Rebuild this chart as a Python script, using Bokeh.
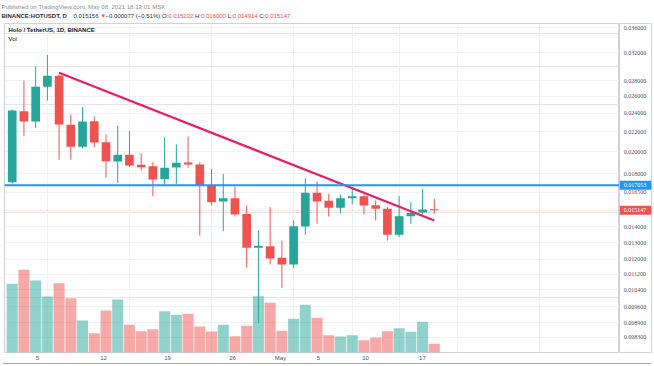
from bokeh.plotting import figure
from bokeh.models import Range1d, FixedTicker, Span, Label, Grid, LinearScale, Spacer
from bokeh.layouts import column, row
from bokeh.embed import file_html
from bokeh.resources import INLINE

# ---------------- data ----------------
day_index = list(range(37))  # 2 Apr 2021 ... 8 May 2021, daily
opens = [0.01731, 0.02424, 0.02309, 0.02722, 0.02867, 0.02273, 0.02048, 0.02312, 0.02093, 0.01910,
         0.01971, 0.01880, 0.01868, 0.01756, 0.01856, 0.01901, 0.01883, 0.01700, 0.01580, 0.01605,
         0.01488, 0.01269, 0.01278, 0.01210, 0.01172, 0.01403, 0.01646, 0.01585, 0.01533, 0.01605,
         0.01620, 0.01552, 0.01526, 0.01349, 0.01473, 0.01499, 0.015222]
highs = [0.02444, 0.02804, 0.02996, 0.03167, 0.02885, 0.02386, 0.02470, 0.02364, 0.02171, 0.02265,
         0.02205, 0.01986, 0.01903, 0.02143, 0.02070, 0.02150, 0.01903, 0.01845, 0.01801, 0.01696,
         0.01550, 0.01377, 0.01538, 0.01313, 0.01444, 0.01764, 0.01737, 0.01639, 0.01633, 0.01691,
         0.01633, 0.01587, 0.01538, 0.01620, 0.01575, 0.01678, 0.016000]
lows = [0.01720, 0.02153, 0.02236, 0.02550, 0.01925, 0.01925, 0.02031, 0.02044, 0.01768, 0.01723,
        0.01859, 0.01830, 0.01620, 0.01713, 0.01718, 0.01854, 0.01345, 0.01550, 0.01372, 0.01471,
        0.01154, 0.00886, 0.01172, 0.01049, 0.01152, 0.01349, 0.01421, 0.01471, 0.01495, 0.01558,
        0.01485, 0.01444, 0.01313, 0.01334, 0.01421, 0.01485, 0.014914]
closes = [0.02432, 0.02309, 0.02722, 0.02867, 0.02276, 0.02048, 0.02309, 0.02090, 0.01912, 0.01971,
          0.01874, 0.01859, 0.01754, 0.01854, 0.01898, 0.01883, 0.01702, 0.01575, 0.01605, 0.01485,
          0.01269, 0.01281, 0.01206, 0.01172, 0.01405, 0.01646, 0.01580, 0.01533, 0.01605, 0.01620,
          0.01550, 0.01526, 0.01349, 0.01473, 0.01495, 0.01521, 0.015147]
volumes = [6.87, 8.27, 7.20, 5.60, 6.93, 5.43, 3.20, 1.93, 4.20, 5.30,
           2.77, 2.13, 2.33, 4.13, 3.77, 3.87, 2.60, 2.10, 2.77, 1.63,
           2.67, 5.63, 4.97, 2.17, 3.37, 4.77, 3.47, 1.73, 1.60, 1.73,
           1.23, 1.50, 2.13, 2.43, 2.07, 3.07, 0.87]

price_ticks = [0.036, 0.032, 0.028, 0.026, 0.024, 0.022, 0.020, 0.018, 0.0165,
               0.014, 0.013, 0.012, 0.0112, 0.0104, 0.0096, 0.0089, 0.0083]
date_grid = [3, 10, 17, 24, 29, 33, 38, 45]          # Apr 5, 12, 19, 26, May 1, 5, 10, 17
date_label_pos = [2.16, 7.79, 13.25, 18.79, 22.88, 26.12, 30.13, 34.99]
date_labels = ["5", "12", "19", "26", "May", "5", "10", "17"]
resistance = 0.017053
last_close = 0.015147
trend_x = [4, 36]
trend_y = [0.02908, 0.01444]

header_1 = "Published on TradingView.com, May 08, 2021 18:13:01 MSK"
header_2 = [("BINANCE:HOTUSDT, D", "dark", True, " "), ("0.015156", "dark", False, " "),
            ("▼", "red", False, " "), ("−0.000077 (−0.51%)", "dark", False, " "),
            ("O:", "dark", False, ""), ("0.015222", "red", False, " "),
            ("H:", "dark", False, ""), ("0.016000", "red", False, " "),
            ("L:", "dark", False, ""), ("0.014914", "red", False, " "),
            ("C:", "dark", False, ""), ("0.015147", "red", False, "")]
pane_title = "Holo / TetherUS, 1D, BINANCE"

# ---------------- style ----------------
UP, DOWN, BLUE = "#26a69a", "#ef5350", "#2196f3"
FONT = "Liberation Sans"
FW, FH = 615, 329          # main frame
AW = 32                    # price-scale width
STEP = 11.725              # px per day
HEAD_H = 23
BOTTOM = 11
LINE_C = "#cfd2d8"
GRID_C = "#f0f2f6"
BORDER_C = "#a3a6af"

colors = [UP if c >= o else DOWN for o, c in zip(opens, closes)]
tops = [max(o, c) for o, c in zip(opens, closes)]
bottoms = [min(o, c) for o, c in zip(opens, closes)]

price_range = Range1d(0.00772, 0.03674)

# ---------------- header ----------------
h = figure(width=FW + AW + 7, height=HEAD_H, x_range=Range1d(0, FW + AW + 7), y_range=Range1d(HEAD_H, 0),
           x_axis_location=None, y_axis_location=None, min_border=0,
           output_backend="svg", toolbar_location=None)
h.outline_line_color = None
h.grid.visible = False
h.add_layout(Label(x=1, y=5.5, text=header_1, text_font=FONT, text_font_size="6.1px",
                   text_color="#8a8d96", text_baseline="middle"))

W = {c: 0.556 for c in "0123456789"}
W.update({".": 0.278, ":": 0.278, ",": 0.278, " ": 0.278, "(": 0.333, ")": 0.333, "%": 0.889,
          "−": 0.584, "▼": 0.62, "B": 0.667, "I": 0.278, "N": 0.722, "A": 0.667, "C": 0.722,
          "E": 0.667, "H": 0.722, "O": 0.778, "T": 0.611, "U": 0.722, "S": 0.667, "D": 0.722,
          "L": 0.556})


def text_width(s, size, bold):
    return sum(W.get(ch, 0.556) for ch in s) * size * (1.08 if bold else 1.0)


size2 = 6.0
cx = 1.0
for txt, col, bold, gap in header_2:
    h.add_layout(Label(x=cx, y=15.5, text=txt, text_font=FONT, text_font_size=f"{size2}px",
                       text_font_style="bold" if bold else "normal",
                       text_color=DOWN if col == "red" else "#2a2e39", text_baseline="middle"))
    cx += text_width(txt + gap, size2, bold)

# ---------------- main pane ----------------
x0 = -7.7 / STEP
p = figure(frame_width=FW, frame_height=FH,
           min_border_left=4, min_border_right=0, min_border_top=0, min_border_bottom=BOTTOM,
           x_range=Range1d(x0, x0 + FW / STEP), y_range=price_range,
           y_axis_type="log", y_axis_location=None,
           output_backend="svg", toolbar_location=None)
p.extra_y_ranges = {"vol": Range1d(0, FH / 10.0)}
p.extra_y_scales = {"vol": LinearScale()}
p.outline_line_color = LINE_C
p.background_fill_color = "white"
p.border_fill_color = "white"

p.xgrid.grid_line_color = None
p.add_layout(Grid(dimension=0, ticker=FixedTicker(ticks=date_grid, minor_ticks=[]), grid_line_color=GRID_C))
p.add_layout(Grid(dimension=1, ticker=FixedTicker(ticks=price_ticks, minor_ticks=[]), grid_line_color=GRID_C))

p.xaxis.ticker = FixedTicker(ticks=date_label_pos, minor_ticks=[])
p.xaxis.major_label_overrides = {pos: lab for pos, lab in zip(date_label_pos, date_labels)}
p.xaxis.axis_line_color = None
p.xaxis.major_tick_line_color = None
p.xaxis.minor_tick_line_color = None
p.xaxis.major_tick_out = 0
p.xaxis.major_tick_in = 0
p.xaxis.major_label_text_font = FONT
p.xaxis.major_label_text_font_size = "6px"
p.xaxis.major_label_text_color = "#50535e"
p.xaxis.major_label_standoff = 2

# volume
p.vbar(x=day_index, width=0.94, top=volumes, bottom=0, y_range_name="vol",
       fill_color=colors, fill_alpha=0.5, line_color=None)

# candles
p.segment(x0=day_index, y0=highs, x1=day_index, y1=lows, line_color=colors, line_width=1)
p.vbar(x=day_index, width=0.74, top=tops, bottom=bottoms, fill_color=colors, line_color=None)

# horizontal levels
p.add_layout(Span(location=last_close, dimension="width", line_color=DOWN,
                  line_alpha=0.45, line_width=1, line_dash="1 2"))
p.add_layout(Span(location=resistance, dimension="width", line_color=BLUE, line_width=2))

# trend line
p.line(trend_x, trend_y, line_color="#e91e63", line_width=2.2)

# pane texts
p.add_layout(Label(x=4, y=FH - 6, x_units="screen", y_units="screen", text=pane_title,
                   text_font=FONT, text_font_size="6px", text_font_style="bold",
                   text_color="#131722", text_baseline="middle"))
p.add_layout(Label(x=4, y=FH - 15, x_units="screen", y_units="screen", text="Vol",
                   text_font=FONT, text_font_size="6px", text_color="#131722", text_baseline="middle"))

# ---------------- price scale ----------------
s = figure(frame_width=AW, frame_height=FH,
           min_border_left=0, min_border_right=3, min_border_top=0, min_border_bottom=BOTTOM,
           x_range=Range1d(0, 1), y_range=price_range, y_axis_type="log",
           x_axis_location=None, y_axis_location=None,
           output_backend="svg", toolbar_location=None)
s.outline_line_color = LINE_C
s.grid.visible = False
tick_text = [f"{t:.6f}" for t in price_ticks]
s.text(x=[0.13] * len(price_ticks), y=price_ticks, text=tick_text,
       text_font_size="6px", text_color="#50535e", text_baseline="middle", text_align="left")
s.rect(x=[0.5, 0.5], y=[resistance, last_close], width=1, height=9, height_units="screen",
       fill_color=[BLUE, DOWN], line_color=None)
s.text(x=[0.13, 0.13], y=[resistance, last_close], text=["0.017053", "0.015147"],
       text_font_size="6px", text_color="white", text_baseline="middle", text_align="left")
for r in s.renderers:
    if hasattr(r.glyph, "text_font"):
        r.glyph.text_font = FONT

bottom_line = row(Spacer(width=3, height=1),
                  Spacer(width=FW + AW + 1, height=1, styles={"background-color": BORDER_C}))

layout = column(h, row(p, s), bottom_line)
open("out.html", "w").write(file_html(layout, INLINE, title="HOTUSDT"))
